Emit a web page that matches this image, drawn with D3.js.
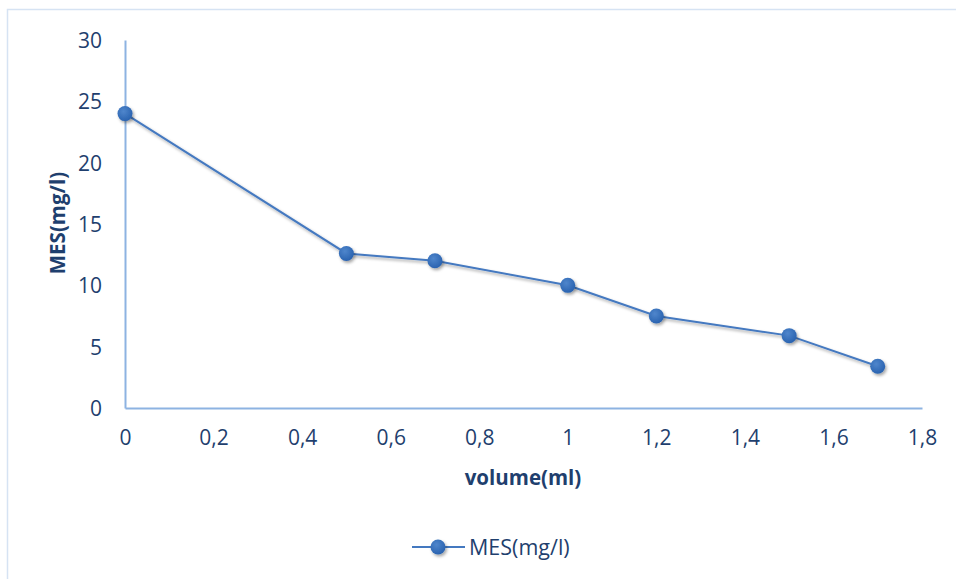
<!DOCTYPE html>
<html><head><meta charset="utf-8">
<script src="https://cdn.jsdelivr.net/npm/d3@7"></script>
<style>body{margin:0;background:#fff;} svg{display:block;font-family:"Open Sans",sans-serif;}</style>
</head><body><svg id="c" width="956" height="579"></svg>
<script>
const volumes = [0, 0.5, 0.7, 1, 1.2, 1.5, 1.7];
const mesValues = [24, 12.6, 12, 10, 7.5, 5.9, 3.4];
const xTicks = [0, 0.2, 0.4, 0.6, 0.8, 1, 1.2, 1.4, 1.6, 1.8];
const yTicks = [0, 5, 10, 15, 20, 25, 30];
const seriesName = "MES(mg/l)";
const xTitle = "volume(ml)";
const yTitle = "MES(mg/l)";

const svg = d3.select("#c");
const textColor = "#1F3F6E", axisColor = "#8DB3E2", lineColor = "#4479C0", markColor = "#2F6DBE";

const defs = svg.append("defs");
const f = defs.append("filter").attr("id","sh").attr("x","-50%").attr("y","-50%").attr("width","200%").attr("height","200%");
f.append("feDropShadow").attr("dx",1.5).attr("dy",2).attr("stdDeviation",1.6).attr("flood-color","#000").attr("flood-opacity",0.35);
const g2 = defs.append("radialGradient").attr("id","mg").attr("cx","40%").attr("cy","35%").attr("r","65%");
g2.append("stop").attr("offset","0%").attr("stop-color","#4F86CC");
g2.append("stop").attr("offset","100%").attr("stop-color","#2A63B0");

// chart border
svg.append("path").attr("d","M7.5,579 V9.5 H956").attr("fill","none").attr("stroke","#D6E3F3").attr("stroke-width",1.5);

const x = d3.scaleLinear().domain([0,1.8]).range([125,922]);
const y = d3.scaleLinear().domain([0,30]).range([408,40]);

// axes
const xa = svg.append("g").attr("transform","translate(0,408)")
  .call(d3.axisBottom(x).tickValues(xTicks).tickSize(0).tickPadding(22)
    .tickFormat(d => d3.format("~g")(d).replace(".", ",")));
const ya = svg.append("g").attr("transform","translate(125,0)")
  .call(d3.axisLeft(y).tickValues(yTicks).tickSize(0).tickPadding(23));
[xa, ya].forEach(a => {
  a.select(".domain").attr("stroke", axisColor).attr("stroke-width", 2);
  a.selectAll("text").attr("fill", textColor).attr("font-size", 21).attr("font-family","Open Sans, sans-serif");
});
ya.selectAll("text").attr("dy","0.35em");

// axis titles
svg.append("text").attr("x",523).attr("y",485).attr("text-anchor","middle")
  .attr("font-weight","bold").attr("font-size",20.5).attr("fill",textColor).text(xTitle);
svg.append("text").attr("transform","translate(65,223) rotate(-90)").attr("text-anchor","middle")
  .attr("font-weight","bold").attr("font-size",20.5).attr("fill",textColor).text(yTitle);

// line
const data = volumes.map((v,i)=>({x:v,y:mesValues[i]}));
svg.append("path").datum(data)
  .attr("d", d3.line().x(d=>x(d.x)).y(d=>y(d.y)))
  .attr("fill","none").attr("stroke",lineColor).attr("stroke-width",2).attr("filter","url(#sh)");
svg.selectAll("circle.pt").data(data).join("circle").attr("class","pt")
  .attr("cx",d=>x(d.x)).attr("cy",d=>y(d.y)).attr("r",7.5)
  .attr("fill","url(#mg)").attr("filter","url(#sh)");

// legend
const lg = svg.append("g");
lg.append("line").attr("x1",412).attr("x2",465).attr("y1",547).attr("y2",547).attr("stroke",lineColor).attr("stroke-width",2);
lg.append("circle").attr("cx",438).attr("cy",547).attr("r",7.5).attr("fill","url(#mg)").attr("filter","url(#sh)");
lg.append("text").attr("x",469).attr("y",547).attr("dy","0.35em").attr("font-size",21.5).attr("fill",textColor).text(seriesName);
</script></body></html>
